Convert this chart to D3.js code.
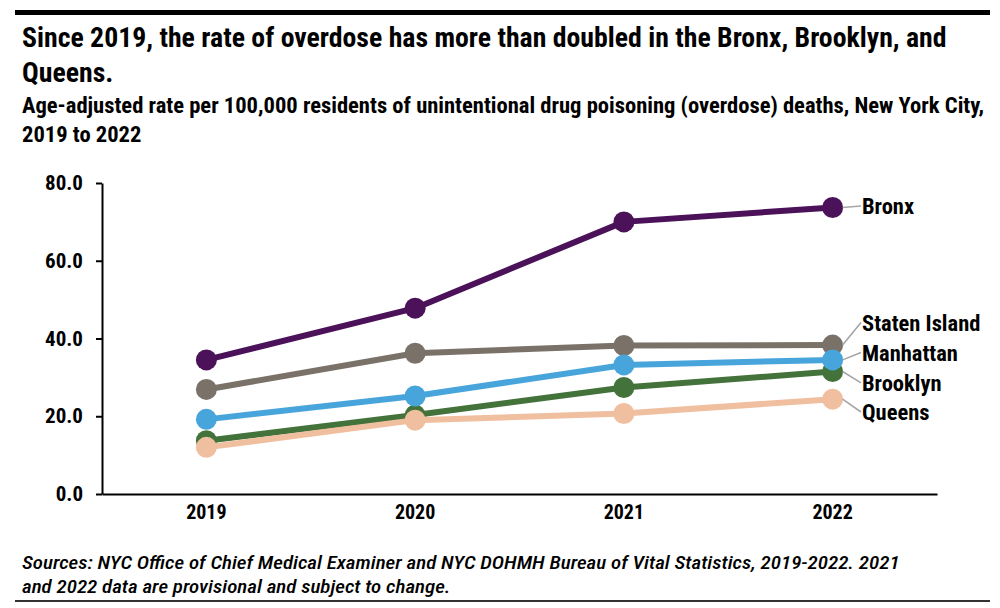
<!DOCTYPE html>
<html>
<head>
<meta charset="utf-8">
<script src="https://cdn.jsdelivr.net/npm/d3@7/dist/d3.min.js"></script>
<style>
  html, body { margin: 0; padding: 0; background: #fff; }
  svg { display: block; }
</style>
</head>
<body>
<svg id="chart" width="1000" height="608"></svg>
<script>
// ---------- data ----------
const years = ["2019", "2020", "2021", "2022"];
const boroughs = ["Bronx", "Staten Island", "Brooklyn", "Manhattan", "Queens"];
const bronx        = [34.5, 47.8, 70.0, 73.7];
const statenIsland = [26.9, 36.2, 38.2, 38.3];
const brooklyn     = [13.7, 20.3, 27.4, 31.5];
const manhattan    = [19.2, 25.2, 33.2, 34.5];
const queens       = [12.0, 19.0, 20.7, 24.4];
const yTicks = [0, 20, 40, 60, 80];

const titleLines = [
  "Since 2019, the rate of overdose has more than doubled in the Bronx, Brooklyn, and",
  "Queens."
];
const subtitleLines = [
  "Age-adjusted rate per 100,000 residents of unintentional drug poisoning (overdose) deaths, New York City,",
  "2019 to 2022"
];
const footerLines = [
  "Sources: NYC Office of Chief Medical Examiner and NYC DOHMH Bureau of Vital Statistics, 2019-2022. 2021",
  "and 2022 data are provisional and subject to change."
];

// ---------- styling / layout ----------
const seriesValues = {
  "Bronx": bronx, "Staten Island": statenIsland, "Brooklyn": brooklyn,
  "Manhattan": manhattan, "Queens": queens
};
const colors = {
  "Bronx": "#4b1259", "Staten Island": "#7a7269", "Brooklyn": "#43733a",
  "Manhattan": "#48a5dc", "Queens": "#f0bf9f"
};
// label anchor heights (in value units) for the right-hand annotations
const labelLevel = {
  "Bronx": 74.1, "Staten Island": 44.1, "Manhattan": 36.4, "Brooklyn": 28.6, "Queens": 21.1
};
const FONT = "'Liberation Sans Narrow','Roboto Condensed','DejaVu Sans Condensed','Arial Narrow',Roboto,sans-serif";

const svg = d3.select("#chart");

// top rule and bottom rule
svg.append("rect").attr("x", 15).attr("y", 10).attr("width", 975).attr("height", 5).attr("fill", "#000");
svg.append("rect").attr("x", 15).attr("y", 600).attr("width", 975).attr("height", 2).attr("fill", "#333");

// helper: text block scaled horizontally so its first line hits a target width
function textBlock(lines, x, baselines, size, weight, style, targetWidth) {
  const g = svg.append("g");
  const t = g.selectAll("text").data(lines).join("text")
    .attr("x", 0).attr("y", (d, i) => baselines[i])
    .attr("font-family", FONT).attr("font-size", size)
    .attr("font-weight", weight).attr("font-style", style)
    .attr("fill", "#000").text(d => d);
  const w = t.nodes()[0].getComputedTextLength();
  const f = targetWidth / w;
  g.attr("transform", `translate(${x},0) scale(${f},1)`);
  return g;
}

textBlock(titleLines, 22, [47, 82], 28, 700, "normal", 925);
textBlock(subtitleLines, 22, [113, 142], 22.5, 700, "normal", 963);
textBlock(footerLines, 22, [569, 593], 18.5, 500, "italic", 878);

// ---------- scales ----------
const x = d3.scaleBand().domain(years).range([102, 937]).padding(0);
const y = d3.scaleLinear().domain([0, 80]).range([494, 183]);
const cx = d => x(d) + x.bandwidth() / 2;

// axes
const yAxis = svg.append("g").attr("transform", "translate(102,0)")
  .call(d3.axisLeft(y).tickValues(yTicks).tickFormat(d3.format(".1f")).tickSize(6).tickSizeOuter(0).tickPadding(13));
yAxis.select(".domain").attr("stroke", "#000").attr("stroke-width", 2);
yAxis.selectAll(".tick line").attr("stroke", "#000").attr("stroke-width", 2);
yAxis.selectAll(".tick text").attr("font-family", FONT).attr("font-size", 21).attr("font-weight", 700).attr("fill", "#000");

const xAxis = svg.append("g").attr("transform", "translate(0,494)")
  .call(d3.axisBottom(x).tickSize(0).tickSizeOuter(0).tickPadding(11));
xAxis.select(".domain").attr("stroke", "#000").attr("stroke-width", 2);
xAxis.selectAll(".tick text").attr("font-family", FONT).attr("font-size", 20).attr("font-weight", 700).attr("fill", "#000");

// ---------- series ----------
const line = d3.line().x((d, i) => cx(years[i])).y(d => y(d));

boroughs.forEach(name => {
  const vals = seriesValues[name];
  const g = svg.append("g");
  g.append("path").attr("d", line(vals)).attr("fill", "none")
    .attr("stroke", colors[name]).attr("stroke-width", 6).attr("stroke-linejoin", "round");
  g.selectAll("circle").data(vals).join("circle")
    .attr("cx", (d, i) => cx(years[i])).attr("cy", d => y(d)).attr("r", 10.5)
    .attr("fill", colors[name]);
});

// ---------- right-hand labels ----------
const lastX = cx(years[years.length - 1]);
const labelX = 862;
boroughs.forEach(name => {
  const vals = seriesValues[name];
  const vy = y(vals[vals.length - 1]);
  const ly = y(labelLevel[name]);
  svg.append("line")
    .attr("x1", lastX + 10).attr("y1", vy)
    .attr("x2", labelX - 1).attr("y2", ly)
    .attr("stroke", "#a5a5a5").attr("stroke-width", 1.6);
  svg.append("text")
    .attr("x", labelX).attr("y", ly).attr("dy", "0.36em")
    .attr("font-family", FONT).attr("font-size", 22.5).attr("font-weight", 700)
    .attr("fill", "#000").text(name);
});
</script>
</body>
</html>
